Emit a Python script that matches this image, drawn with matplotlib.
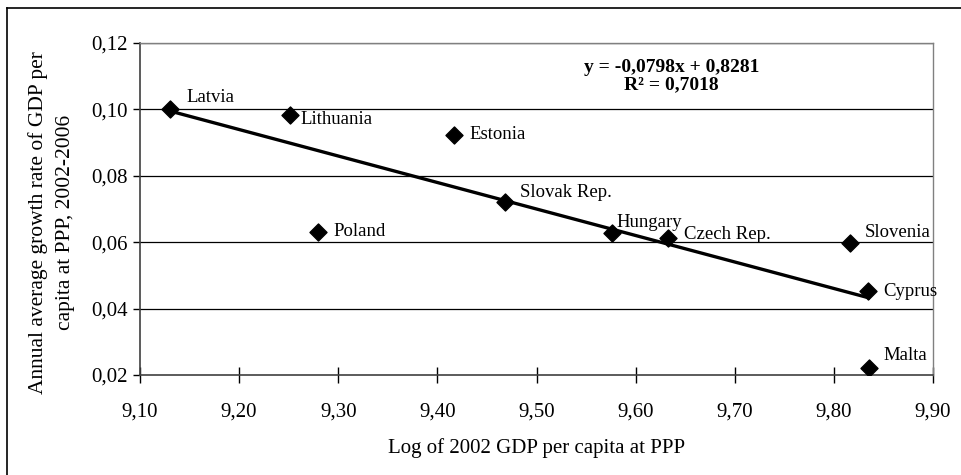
import matplotlib
matplotlib.use("Agg")
import matplotlib.pyplot as plt
import numpy as np
from matplotlib.lines import Line2D

plt.rcParams["font.family"] = ["Liberation Serif", "DejaVu Serif"]

countries = ["Latvia", "Lithuania", "Estonia", "Poland", "Slovak Rep.", "Hungary",
             "Czech Rep.", "Slovenia", "Cyprus", "Malta"]
log_gdp = [9.130, 9.251, 9.417, 9.280, 9.468, 9.576, 9.633, 9.816, 9.834, 9.835]
growth = [0.1002, 0.0982, 0.0923, 0.0631, 0.0721, 0.0627, 0.0612, 0.0597, 0.0453, 0.0222]
slope = -0.0798
intercept = 0.8281
x_ticks = [9.10, 9.20, 9.30, 9.40, 9.50, 9.60, 9.70, 9.80, 9.90]
y_ticks = [0.02, 0.04, 0.06, 0.08, 0.10, 0.12]

# label offsets in points (dx, dy)
offsets = {
    "Latvia": (12, 8), "Lithuania": (8, -3), "Estonia": (11, 0), "Poland": (11, 0),
    "Slovak Rep.": (11, 7), "Hungary": (3, 8), "Czech Rep.": (11, 3),
    "Slovenia": (11, 8), "Cyprus": (11, 0), "Malta": (11, 9),
}

fig = plt.figure(figsize=(9.62, 4.75), dpi=100)
ax = fig.add_axes([140 / 962, 100 / 475, 793 / 962, 332 / 475])

for yv in y_ticks[1:]:
    ax.axhline(yv, color="black", linewidth=0.9, zorder=1)

x_fit = np.array([min(log_gdp), max(log_gdp)])
ax.plot(x_fit, slope * x_fit + intercept, color="black", linewidth=2.4, zorder=2)
ax.scatter(log_gdp, growth, marker="D", s=75, color="black", zorder=3)

for name, xv, yv in zip(countries, log_gdp, growth):
    dx, dy = offsets[name]
    ax.annotate(name, (xv, yv), xytext=(dx, dy), textcoords="offset points",
                fontsize=13.5, va="center", ha="left")

ax.text(0.67, 0.90, "y = -0,0798x + 0,8281\nR² = 0,7018", transform=ax.transAxes,
        ha="center", va="center", fontsize=14, fontweight="bold", linespacing=1.05)

ax.set_xlim(9.10, 9.90)
ax.set_ylim(0.02, 0.12)
ax.set_xticks(x_ticks)
ax.set_yticks(y_ticks)
ax.set_xticklabels([f"{v:.2f}".replace(".", ",") for v in x_ticks])
ax.set_yticklabels([f"{v:.2f}".replace(".", ",") for v in y_ticks])
ax.tick_params(axis="x", direction="inout", length=11, width=1, pad=14, labelsize=15)
ax.tick_params(axis="y", direction="out", length=5, width=1, pad=4, labelsize=15)

for side in ["left", "bottom"]:
    ax.spines[side].set_color("#404040")
    ax.spines[side].set_linewidth(1.2)
for side in ["top", "right"]:
    ax.spines[side].set_color("#808080")
    ax.spines[side].set_linewidth(1.0)

ax.set_xlabel("Log of 2002 GDP per capita at PPP", fontsize=15, labelpad=12)
ax.set_ylabel("Annual average growth rate of GDP per\ncapita at PPP, 2002-2006",
              fontsize=15.5, linespacing=1.6)
ax.yaxis.set_label_coords(-0.082, 0.46)

# outer frame (only top and left edges visible)
fig.add_artist(Line2D([7 / 962, 1.0], [1 - 8 / 475, 1 - 8 / 475], color="black",
                      linewidth=1.2, transform=fig.transFigure))
fig.add_artist(Line2D([7 / 962, 7 / 962], [0.0, 1 - 8 / 475], color="black",
                      linewidth=1.2, transform=fig.transFigure))

fig.savefig("out.png", dpi=100)
